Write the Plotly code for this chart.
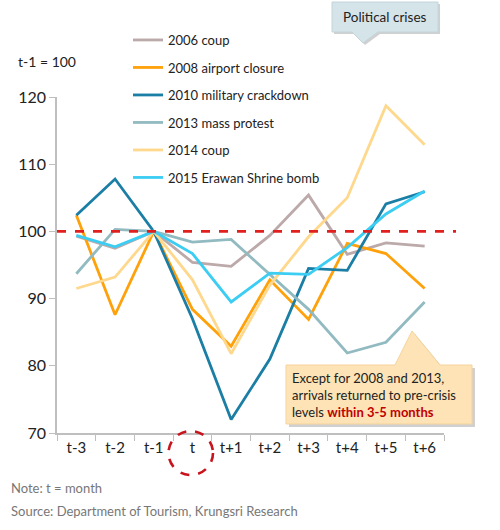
import plotly.graph_objects as go

# ============================
# Data (index, t-1 = 100)
# ============================

months = ['t-3', 't-2', 't-1', 't', 't+1', 't+2', 't+3', 't+4', 't+5', 't+6']

coup_2006 = [99.3, 97.5, 100, 95.4, 94.8, 99.4, 105.4, 96.6, 98.3, 97.8]
airport_2008 = [102.4, 87.6, 100, 88.4, 82.9, 92.8, 86.9, 98.2, 96.7, 91.5]
crackdown_2010 = [102.4, 107.8, 100, 87.0, 72.0, 81.0, 94.5, 94.2, 104.1, 105.9]
protest_2013 = [93.7, 100.3, 100, 98.4, 98.8, 93.6, 88.4, 81.9, 83.5, 89.5]
coup_2014 = [91.5, 93.2, 100, 92.8, 81.8, 92.0, 99.2, 105.0, 118.7, 112.9]
bomb_2015 = [99.4, 97.7, 100, 96.7, 89.5, 93.8, 93.6, 97.6, 102.6, 106.0]

series = [
    ('2006 coup', coup_2006, '#bca9a9'),
    ('2008 airport closure', airport_2008, '#ffa10a'),
    ('2010 military crackdown', crackdown_2010, '#1a7ea5'),
    ('2013 mass protest', protest_2013, '#92bac1'),
    ('2014 coup', coup_2014, '#fed88c'),
    ('2015 Erawan Shrine bomb', bomb_2015, '#3ccdf3'),
]

# ============================
# Layout helpers (pixel -> paper)
# ============================

W, H = 500, 530
ML, MR, MT, MB = 57, 56, 97, 97
PW, PH = W - ML - MR, H - MT - MB


def px(x):
    return (x - ML) / PW


def py(y):
    return (H - MB - y) / PH


def path(points):
    s = 'M ' + ' L '.join(f'{px(x):.4f},{py(y):.4f}' for x, y in points)
    return s + ' Z'


FONT = 'Lato'

fig = go.Figure()

for name, vals, color in series:
    fig.add_trace(go.Scatter(
        x=months,
        y=vals,
        mode='lines',
        name=name,
        legendgroup=name,
        line=dict(color=color, width=2.8),
        hovertemplate='%{x}: %{y:.1f}<extra>' + name + '</extra>'
    ))

shapes = []

# reference line at 100
shapes.append(dict(type='line', xref='paper', yref='y', x0=0, x1=px(456),
                   y0=100, y1=100, layer='above',
                   line=dict(color='#e0201f', width=2.6, dash='dash')))

# "Political crises" callout
crisis_box = [(332, 2), (438, 2), (438, 32), (378, 32), (363, 43), (352, 32), (332, 32)]
shapes.append(dict(type='path', xref='paper', yref='paper',
                   path=path([(x + 2, y + 2) for x, y in crisis_box]),
                   fillcolor='rgba(120,120,120,0.35)', line=dict(width=0)))
shapes.append(dict(type='path', xref='paper', yref='paper', path=path(crisis_box),
                   fillcolor='#d5e4e9', line=dict(color='#c3d5db', width=1)))

# note callout
note_box = [(286, 365), (395, 365), (412, 331), (440, 365), (472, 365),
            (472, 424), (286, 424)]
shapes.append(dict(type='path', xref='paper', yref='paper',
                   path=path([(x + 3, y + 3) for x, y in note_box]),
                   fillcolor='rgba(120,120,120,0.35)', line=dict(width=0)))
shapes.append(dict(type='path', xref='paper', yref='paper', path=path(note_box),
                   fillcolor='#fde3b6', line=dict(color='#f5d49c', width=1)))

# dashed circle around "t"
shapes.append(dict(type='circle', xref='paper', yref='paper',
                   x0=px(168.5), x1=px(213), y0=py(431), y1=py(475),
                   line=dict(color='#c8141c', width=2.6, dash='dash')))

annotations = [
    dict(text='t-1 = 100', xref='paper', yref='paper', x=px(16), y=py(62),
         xanchor='left', yanchor='middle', showarrow=False,
         font=dict(family=FONT, size=14, color='#222222')),
    dict(text='Political crises', xref='paper', yref='paper', x=px(385), y=py(17),
         xanchor='center', yanchor='middle', showarrow=False,
         font=dict(family=FONT, size=13.5, color='#222222')),
    dict(text='Except for 2008 and 2013,<br>arrivals returned to pre-crisis<br>'
              'levels <b><span style="color:#c00000">within 3-5 months</span></b>',
         xref='paper', yref='paper', x=px(290), y=py(394.5),
         xanchor='left', yanchor='middle', align='left', showarrow=False,
         font=dict(family=FONT, size=13, color='#222222')),
    dict(text='Note: t = month', xref='paper', yref='paper', x=px(9), y=py(488),
         xanchor='left', yanchor='middle', showarrow=False,
         font=dict(family=FONT, size=13, color='#777777')),
    dict(text='Source: Department of Tourism, Krungsri Research',
         xref='paper', yref='paper', x=px(9), y=py(511),
         xanchor='left', yanchor='middle', showarrow=False,
         font=dict(family=FONT, size=13, color='#777777')),
]

fig.update_layout(
    width=W,
    height=H,
    margin=dict(l=ML, r=MR, t=MT, b=MB),
    plot_bgcolor='white',
    paper_bgcolor='white',
    font=dict(family=FONT, size=15, color='#222222'),
    showlegend=True,
    legend=dict(
        x=px(128), y=py(25), xanchor='left', yanchor='top',
        bgcolor='rgba(0,0,0,0)', tracegroupgap=7.6,
        font=dict(family=FONT, size=13, color='#222222'),
    ),
    xaxis=dict(
        type='category', range=[-0.5, 9.5],
        showline=True, linecolor='#bfbfbf', linewidth=1.5,
        ticks='outside', tickson='boundaries', ticklen=6, tickcolor='#bfbfbf',
        showgrid=False, zeroline=False,
        tickfont=dict(family=FONT, size=15, color='#222222'),
    ),
    yaxis=dict(
        range=[70, 120], dtick=10,
        showline=True, linecolor='#bfbfbf', linewidth=1.5,
        ticks='outside', ticklen=6, tickcolor='#bfbfbf',
        showgrid=False, zeroline=False,
        tickfont=dict(family=FONT, size=16, color='#222222'),
    ),
    shapes=shapes,
    annotations=annotations,
    hovermode='closest',
)

# page body margin would shift the figure off the window origin
fig.write_html('out.html', config={'displayModeBar': False},
               post_script="document.body.style.margin='0';")
